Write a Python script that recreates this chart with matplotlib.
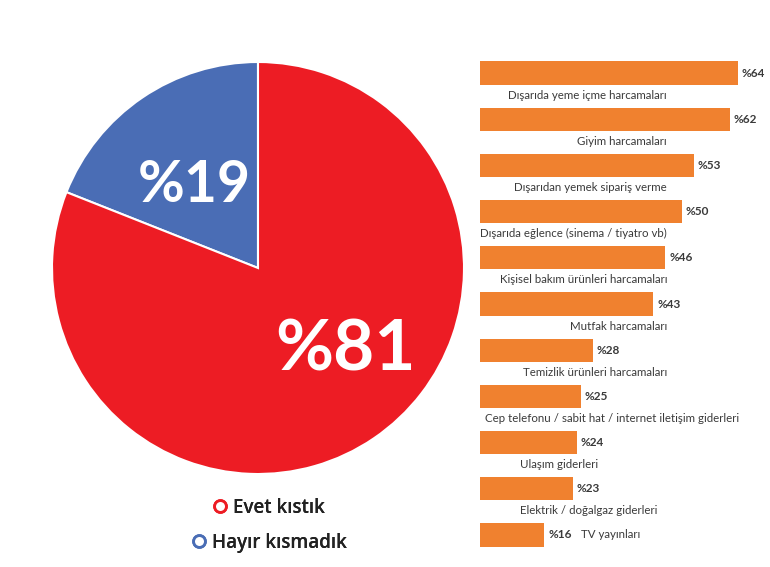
import matplotlib.pyplot as plt
from matplotlib.lines import Line2D

# pie data
pie_labels = ['Hayır kısmadık', 'Evet kıstık']
pie_values = [19, 81]
pie_colors = ['#4a6db5', '#ed1c24']

# bar data
categories = ['Dışarıda yeme içme harcamaları', 'Giyim harcamaları',
              'Dışarıdan yemek sipariş verme', 'Dışarıda eğlence (sinema / tiyatro vb)',
              'Kişisel bakım ürünleri harcamaları', 'Mutfak harcamaları',
              'Temizlik ürünleri harcamaları',
              'Cep telefonu / sabit hat / internet iletişim giderleri',
              'Ulaşım giderleri', 'Elektrik / doğalgaz giderleri', 'TV yayınları']
values = [64, 62, 53, 50, 46, 43, 28, 25, 24, 23, 16]

narrow = ['Lato', 'DejaVu Sans']
txt_color = '#3a3a3a'

fig = plt.figure(figsize=(7.7, 5.67), dpi=100)

# ---- pie ----
axp = fig.add_axes([52 / 770, 93 / 567, 412 / 770, 412 / 567])
wedges, _ = axp.pie(pie_values, colors=pie_colors, startangle=90, counterclock=True,
                    wedgeprops=dict(edgecolor='white', linewidth=1.5))
axp.set_xlim(-1, 1)
axp.set_ylim(-1, 1)
axp.axis('off')
axp.text(-0.31, 0.40, '%' + str(pie_values[0]), color='white', fontsize=41,
         fontweight='bold', family=['Lato', 'DejaVu Sans'], ha='center', va='center')
axp.text(0.425, -0.40, '%' + str(pie_values[1]), color='white', fontsize=51,
         fontweight='bold', family=['Lato', 'DejaVu Sans'], ha='center', va='center')

# legend (open circles), one centred line per entry
for lab, col, ypix in [(pie_labels[1], pie_colors[1], 508), (pie_labels[0], pie_colors[0], 543)]:
    h = Line2D([], [], marker='o', linestyle='none', markerfacecolor='white',
               markeredgecolor=col, markeredgewidth=2, markersize=8.5)
    leg = fig.legend([h], [lab], loc='center', bbox_to_anchor=(268 / 770, 1 - ypix / 567),
                     frameon=False, handletextpad=0.2, handlelength=1.0,
                     prop=dict(family=['Open Sans', 'DejaVu Sans'], size=13.5, weight='semibold'),
                     labelcolor='#222222', borderpad=0)
    fig.add_artist(leg)

# ---- bars ----
px_per_unit = 4.03
axb = fig.add_axes([480 / 770, 1 - 562.7 / 567, 290 / 770, (562.7 - 45.3) / 567])
y = list(range(len(values)))
axb.barh(y, values, height=0.5, color='#f0812f', left=0)
axb.set_xlim(0, 290 / px_per_unit)
axb.set_ylim(len(values) - 0.4, -0.6)
axb.axis('off')

for i, v in enumerate(values):
    axb.text(v + 1.0, i, '%' + str(v), fontsize=8.5, fontweight='bold', color=txt_color,
             family=narrow, va='center', ha='left')

label_x = (667 - 480) / px_per_unit
for i, c in enumerate(categories):
    if i == len(categories) - 1:
        axb.text(values[i] + 9, i, c, fontsize=8.3, color=txt_color, family=narrow,
                 va='center', ha='left')
    elif i == 7:
        axb.text(1.2, i + 0.48, c, fontsize=8.3, color=txt_color, family=narrow,
                 va='center', ha='left')
    elif i in (8, 9):
        axb.text(10, i + 0.48, c, fontsize=8.3, color=txt_color, family=narrow,
                 va='center', ha='left')
    else:
        axb.text(label_x, i + 0.48, c, fontsize=8.3, color=txt_color, family=narrow,
                 va='center', ha='right')

fig.savefig('out.png', dpi=100)
